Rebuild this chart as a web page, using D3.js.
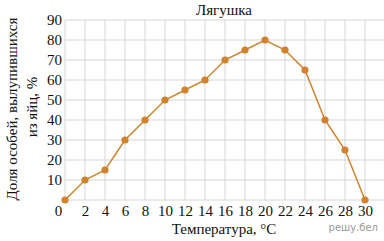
<!DOCTYPE html>
<html>
<head>
<meta charset="utf-8">
<script src="https://cdn.jsdelivr.net/npm/d3@7"></script>
<style>
  body { margin: 0; background: #fff; }
  svg { display: block; }
  text { font-family: "Liberation Serif", "Times New Roman", serif; }
</style>
</head>
<body>
<div id="chart"></div>
<script>
// данные
var temps = [0, 2, 4, 6, 8, 10, 12, 14, 16, 18, 20, 22, 24, 26, 28, 30];
var hatched = [0, 10, 15, 30, 40, 50, 55, 60, 70, 75, 80, 75, 65, 40, 25, 0];
var xTicks = [0, 2, 4, 6, 8, 10, 12, 14, 16, 18, 20, 22, 24, 26, 28, 30];
var yTicks = [0, 10, 20, 30, 40, 50, 60, 70, 80, 90];

var W = 384, H = 241;
var mLeft = 65, mRight = 385, mTop = 20, mBottom = 200;
var serif = "Liberation Serif";

var svg = d3.select("#chart").append("svg")
  .attr("width", W)
  .attr("height", H);

var x = d3.scaleLinear().domain([0, 32]).range([mLeft, mRight]);
var y = d3.scaleLinear().domain([0, 90]).range([mBottom, mTop]);

// сетка
svg.append("g")
  .selectAll("line")
  .data(d3.range(0, 33, 2))
  .enter()
  .append("line")
  .attr("x1", function(d) { return x(d); })
  .attr("x2", function(d) { return x(d); })
  .attr("y1", mTop)
  .attr("y2", mBottom)
  .attr("stroke", "#d6d6d6")
  .attr("stroke-width", 1);

svg.append("g")
  .selectAll("line")
  .data(yTicks)
  .enter()
  .append("line")
  .attr("x1", mLeft)
  .attr("x2", mRight)
  .attr("y1", function(d) { return y(d); })
  .attr("y2", function(d) { return y(d); })
  .attr("stroke", "#d6d6d6")
  .attr("stroke-width", 1);

// подписи осей
var yAxis = svg.append("g")
  .attr("transform", "translate(" + mLeft + ",0)")
  .call(d3.axisLeft(y).tickValues(yTicks.slice(1)).tickSize(0).tickPadding(3));
yAxis.attr("font-family", serif).attr("font-size", 15);
yAxis.select(".domain").remove();
yAxis.selectAll("text")
  .style("font-family", serif)
  .attr("fill", "#111");

var xAxis = svg.append("g")
  .attr("transform", "translate(0," + mBottom + ")")
  .call(d3.axisBottom(x).tickValues(xTicks).tickSize(0).tickPadding(5));
xAxis.attr("font-family", serif).attr("font-size", 15);
xAxis.select(".domain").remove();
xAxis.selectAll("text")
  .style("font-family", serif)
  .attr("fill", "#111")
  .attr("dx", function(d) { return d === 0 ? -7 : 0; });

// линия
var line = d3.line()
  .x(function(d, i) { return x(temps[i]); })
  .y(function(d) { return y(d); });

svg.append("path")
  .datum(hatched)
  .attr("d", line)
  .attr("fill", "none")
  .attr("stroke", "#d2822a")
  .attr("stroke-width", 1.5);

svg.selectAll(".dot")
  .data(hatched)
  .enter()
  .append("circle")
  .attr("class", "dot")
  .attr("cx", function(d, i) { return x(temps[i]); })
  .attr("cy", function(d) { return y(d); })
  .attr("r", 3.6)
  .attr("fill", "#d2822a");

// заголовки
svg.append("text")
  .attr("x", 224)
  .attr("y", 15)
  .attr("text-anchor", "middle")
  .attr("font-size", 15)
  .attr("fill", "#111")
  .text("Лягушка");

svg.append("text")
  .attr("x", 224)
  .attr("y", 234)
  .attr("text-anchor", "middle")
  .attr("font-size", 15)
  .attr("fill", "#111")
  .text("Температура, °C");

svg.append("text")
  .attr("transform", "translate(17,109) rotate(-90)")
  .attr("text-anchor", "middle")
  .attr("font-size", 15)
  .attr("fill", "#111")
  .text("Доля особей, вылупившихся");

svg.append("text")
  .attr("transform", "translate(37,107) rotate(-90)")
  .attr("text-anchor", "middle")
  .attr("font-size", 15)
  .attr("fill", "#111")
  .text("из яйц, %");

svg.append("text")
  .attr("x", 378)
  .attr("y", 231)
  .attr("text-anchor", "end")
  .style("font-family", "'DejaVu Sans', sans-serif")
  .attr("font-size", 10)
  .attr("fill", "#9a9a9a")
  .text("решу.бел");
</script>
</body>
</html>
